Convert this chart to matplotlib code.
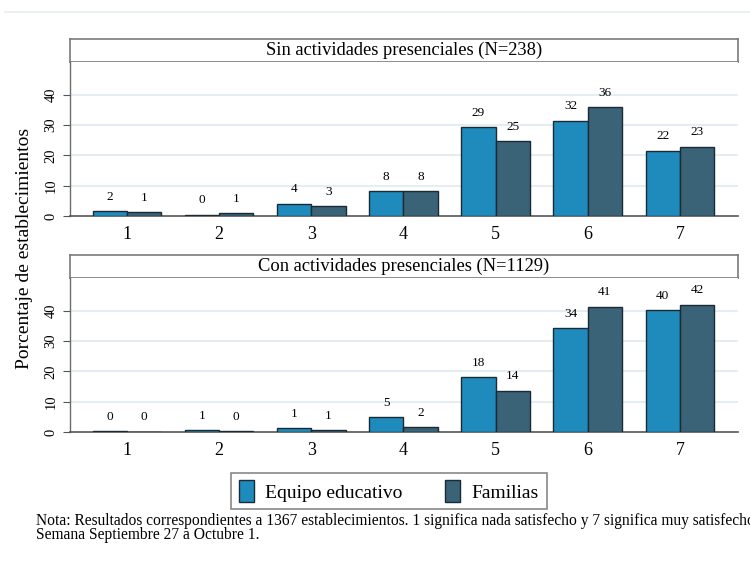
import matplotlib
matplotlib.use('Agg')
import matplotlib.pyplot as plt
from matplotlib.patches import Patch
from matplotlib.lines import Line2D
import numpy as np

plt.rcParams['font.family'] = ['Liberation Serif', 'DejaVu Serif']

# datos
categorias = ['1', '2', '3', '4', '5', '6', '7']
sin_equipo = [1.7, 0.4, 4.1, 8.1, 29.2, 31.5, 21.5]
sin_familias = [1.2, 0.9, 3.3, 8.1, 24.6, 35.8, 22.9]
con_equipo = [0.2, 0.6, 1.2, 4.9, 18.0, 34.3, 40.1]
con_familias = [0.1, 0.2, 0.6, 1.5, 13.6, 41.3, 42.0]
titulo_sin = 'Sin actividades presenciales (N=238)'
titulo_con = 'Con actividades presenciales (N=1129)'
series = ['Equipo educativo', 'Familias']
nota = ('Nota: Resultados correspondientes a 1367 establecimientos. 1 significa nada satisfecho '
        'y 7 significa muy satisfecho.\nSemana Septiembre 27 a Octubre 1.')

COL_EQ = '#1f8bbc'
COL_FAM = '#3a6378'
EDGE = '#1b2a33'
GRID = '#e4edf1'

W, H = 750, 565
fig = plt.figure(figsize=(W / 100, H / 100), dpi=100)

# linea tenue superior
fig.add_artist(Line2D([5 / W, 1], [1 - 12 / H, 1 - 12 / H], color='#e6eded', lw=1.2))

x = np.arange(1, len(categorias) + 1)
w = 0.372
left, right = 70 / W, 738 / W


def panel(y_top, titulo, eq, fam):
    # encabezado
    hdr = fig.add_axes([left, 1 - (y_top + 23) / H, right - left, 23 / H])
    hdr.set_xticks([])
    hdr.set_yticks([])
    for s in hdr.spines.values():
        s.set_color('#7a7a7a')
        s.set_linewidth(1.2)
    hdr.text(0.5, 0.5, titulo, ha='center', va='center', fontsize=13.3)

    ax = fig.add_axes([left, 1 - (y_top + 23 + 154) / H, right - left, 154 / H])
    b1 = ax.bar(x - w / 2, eq, w, color=COL_EQ, edgecolor=EDGE, linewidth=1.0, zorder=3)
    b2 = ax.bar(x + w / 2, fam, w, color=COL_FAM, edgecolor=EDGE, linewidth=1.0, zorder=3)
    for bars, vals in ((b1, eq), (b2, fam)):
        for b, v in zip(bars, vals):
            ax.annotate(f'{v:.0f}', (b.get_x() + b.get_width() / 2, v),
                        xytext=(0, 6), textcoords='offset points',
                        ha='center', va='bottom', fontsize=9.5)
    ax.set_xlim(0.382, 7.63)
    ax.set_ylim(0, 50.8)
    ax.set_yticks([0, 10, 20, 30, 40])
    ax.set_yticklabels(['0', '10', '20', '30', '40'], rotation=90, va='center', fontsize=10.5)
    ax.set_xticks(x)
    ax.set_xticklabels(categorias, fontsize=13)
    ax.tick_params(axis='x', length=0, pad=7)
    ax.tick_params(axis='y', length=5, color='#555555', pad=4)
    for yv in [10, 20, 30, 40]:
        ax.axhline(yv, color=GRID, lw=1.5, zorder=1)
    ax.spines['top'].set_visible(False)
    ax.spines['right'].set_visible(False)
    ax.spines['left'].set_color('#6b6b6b')
    ax.spines['bottom'].set_color('#555555')
    ax.spines['left'].set_linewidth(1.0)
    ax.spines['bottom'].set_linewidth(1.2)
    return ax


panel(39, titulo_sin, sin_equipo, sin_familias)
panel(255, titulo_con, con_equipo, con_familias)

fig.text(25 / W, 1 - 248 / H, 'Porcentaje de establecimientos', rotation=90,
         ha='center', va='center', fontsize=14)

handles = [Patch(facecolor=COL_EQ, edgecolor=EDGE, label=series[0]),
           Patch(facecolor=COL_FAM, edgecolor=EDGE, label=series[1])]
leg = fig.legend(handles=handles, loc='center', bbox_to_anchor=(389 / W, 1 - 491 / H),
                 ncol=2, fontsize=14, frameon=True, fancybox=False,
                 handlelength=0.75, handleheight=1.3, handletextpad=0.6,
                 columnspacing=2.2, borderpad=0.4)
leg.get_frame().set_edgecolor('#6b6b6b')
leg.get_frame().set_linewidth(1.2)

fig.text(36 / W, 1 - 528 / H, nota, ha='left', va='center', fontsize=11.2, linespacing=0.85)

plt.savefig('out.png', dpi=100)
